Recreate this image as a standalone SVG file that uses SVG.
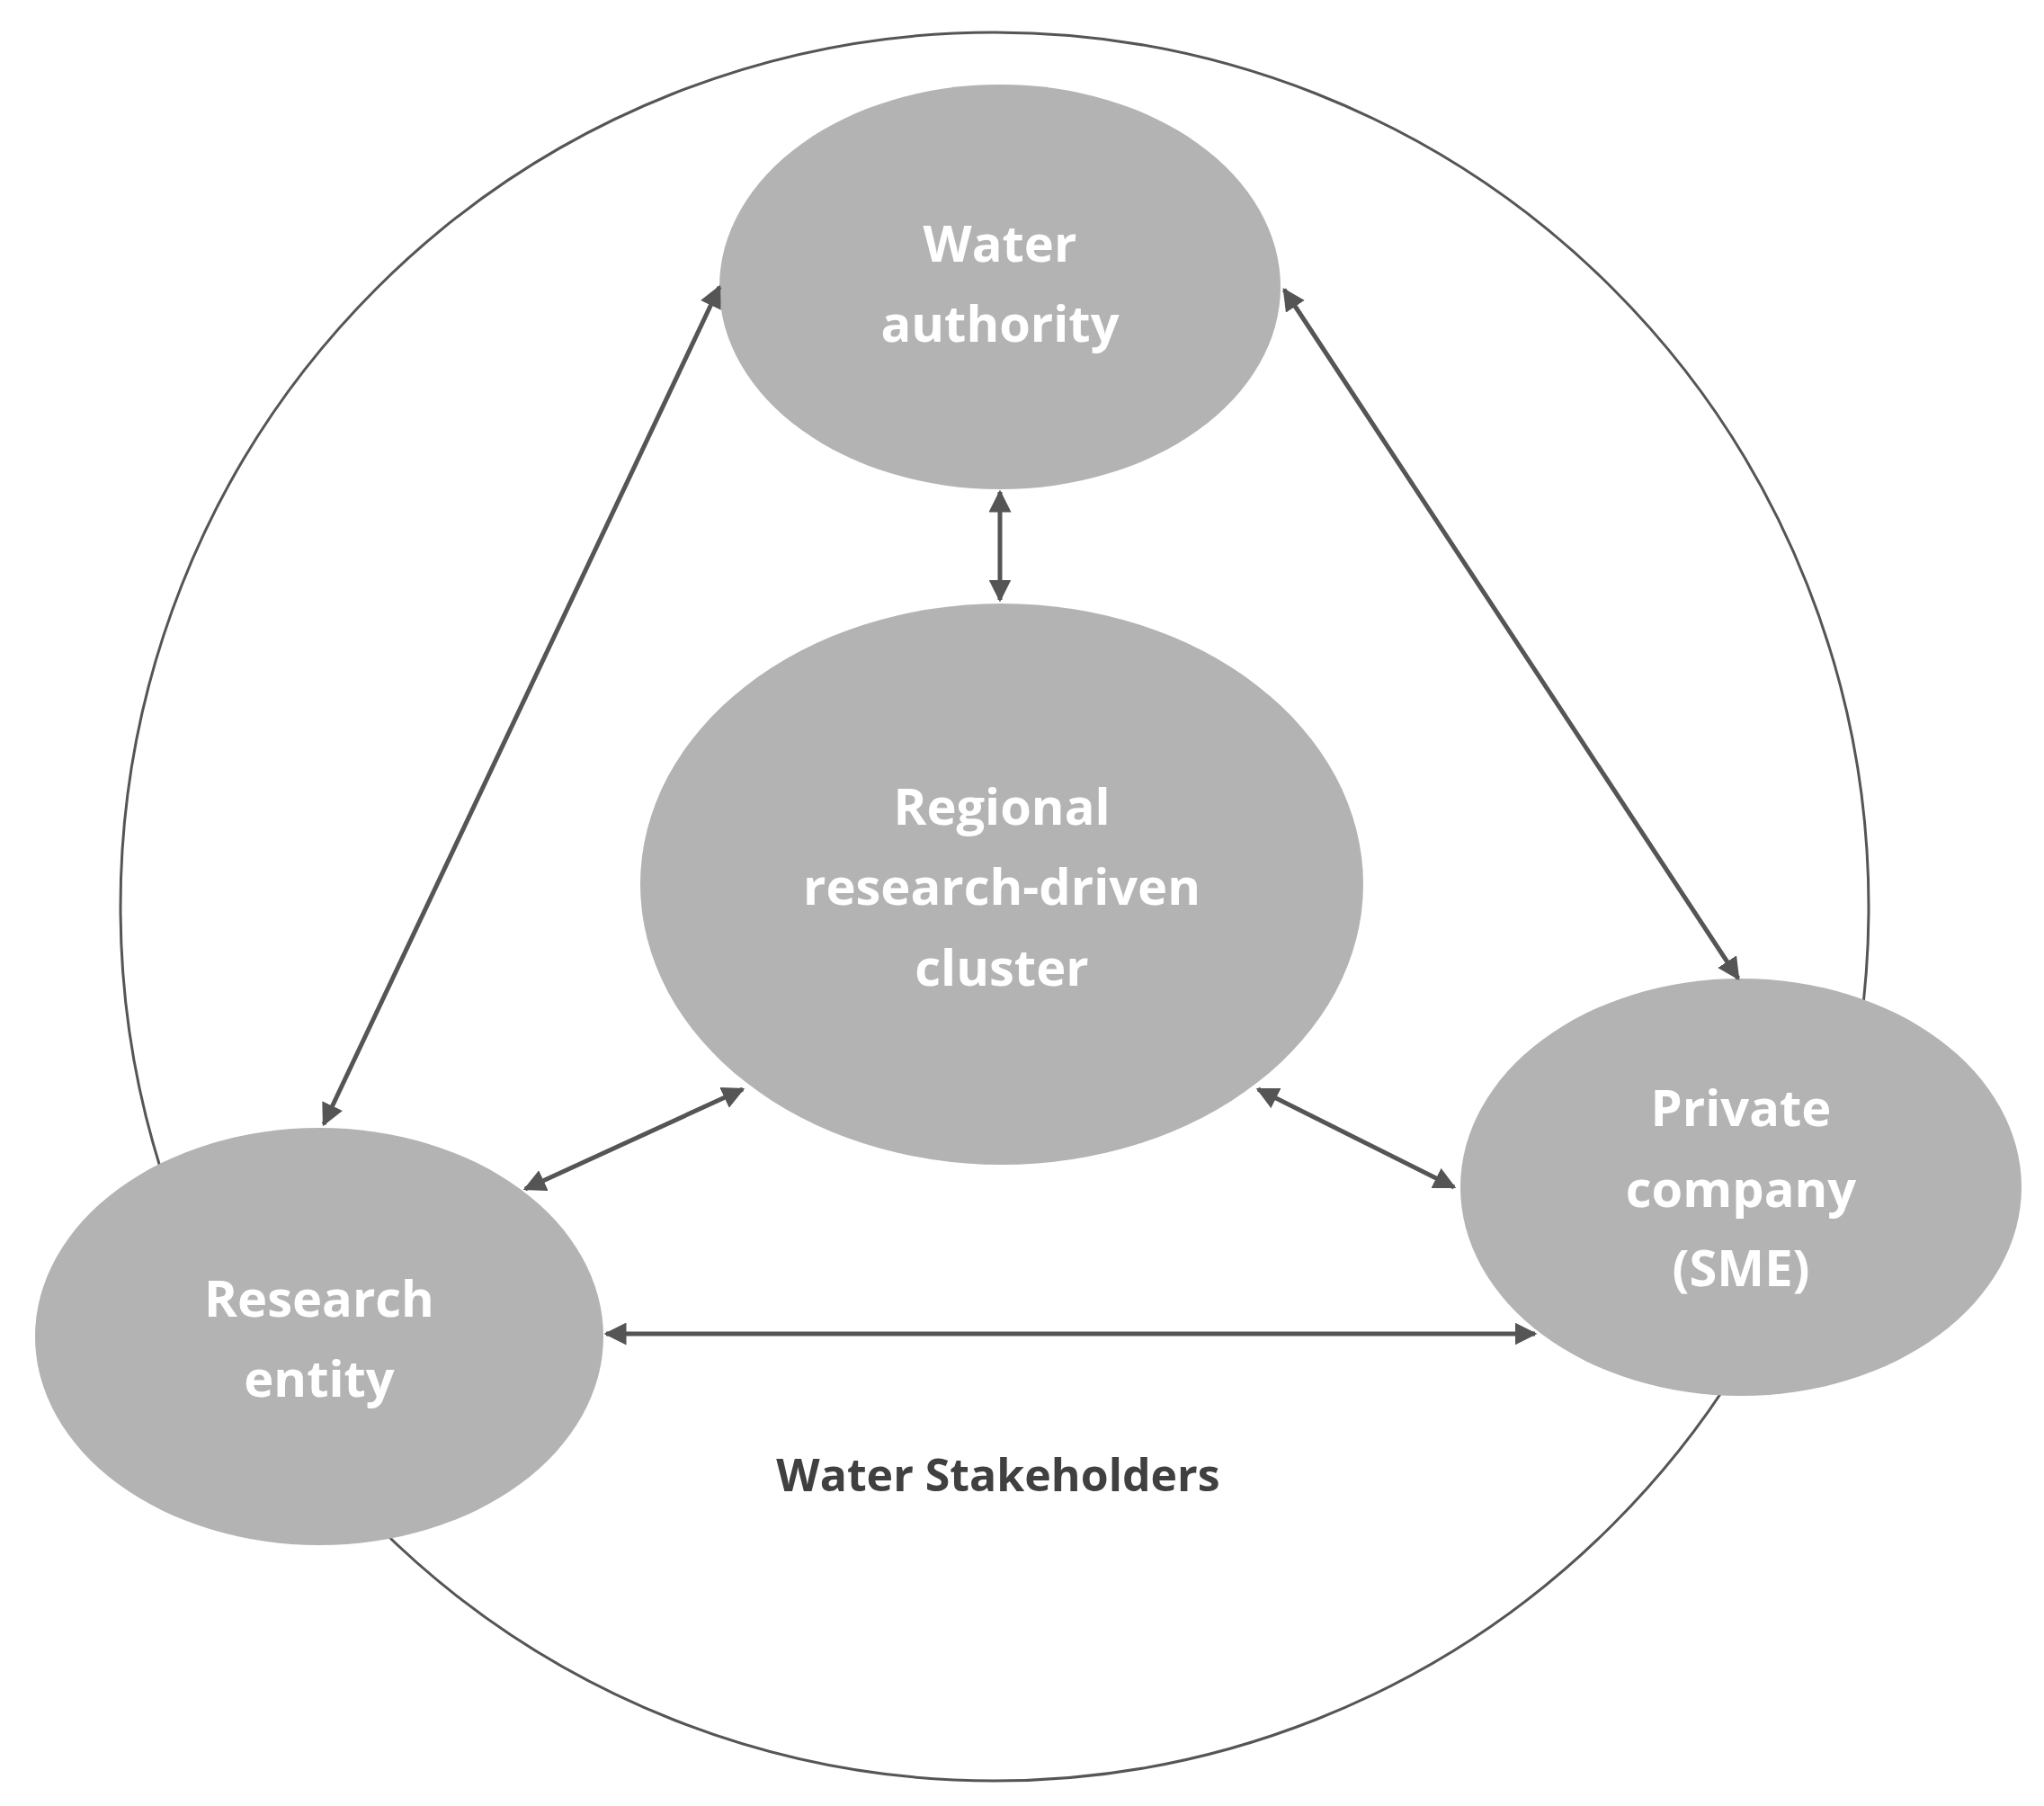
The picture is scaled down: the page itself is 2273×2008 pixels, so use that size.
<svg xmlns="http://www.w3.org/2000/svg" width="2273" height="2008" viewBox="0 0 2273 2008">
<style>
.n{fill:#b3b3b3}
.t{font-family:"Open Sans","Liberation Sans",sans-serif;font-weight:bold;font-size:56px;fill:#fff;text-anchor:middle}
.c{stroke:#555;stroke-width:5;fill:none;marker-start:url(#a);marker-end:url(#a)}
</style>
<defs><marker id="a" viewBox="0 0 10 10" refX="9" refY="5" markerWidth="5" markerHeight="5" orient="auto-start-reverse"><path d="M0,0L10,5L0,10z" fill="#555"/></marker></defs>
<rect width="2273" height="2008" fill="#fff"/>
<circle cx="1106" cy="1008" r="972" fill="none" stroke="#555" stroke-width="3"/>
<g id="wa"><ellipse class="n" cx="1112" cy="319" rx="312" ry="225"/><text class="t" x="1112" y="291">Water</text><text class="t" x="1112" y="380">authority</text></g>
<g id="center"><ellipse class="n" cx="1114" cy="983" rx="402" ry="312"/><text class="t" x="1114" y="917">Regional</text><text class="t" x="1114" y="1006">research-driven</text><text class="t" x="1114" y="1096">cluster</text></g>
<g id="pc"><ellipse class="n" cx="1936" cy="1320" rx="312" ry="232"/><text class="t" x="1936" y="1252">Private</text><text class="t" x="1936" y="1342">company</text><text class="t" x="1936" y="1430">(SME)</text></g>
<g id="re"><ellipse class="n" cx="355" cy="1486" rx="316" ry="232"/><text class="t" x="355" y="1464">Research</text><text class="t" x="355" y="1553">entity</text></g>
<text x="1110" y="1658" font-family="Open Sans, Liberation Sans, sans-serif" font-weight="bold" font-size="50" fill="#404040" text-anchor="middle">Water Stakeholders</text>
<g id="connectors">
<line class="c" x1="800" y1="319" x2="360" y2="1250"/>
<line class="c" x1="1428" y1="322" x2="1933" y2="1088"/>
<line class="c" x1="1112" y1="547" x2="1112" y2="667"/>
<line class="c" x1="826" y1="1211" x2="584" y2="1322"/>
<line class="c" x1="1399" y1="1211" x2="1617" y2="1320"/>
<line class="c" x1="674" y1="1483" x2="1707" y2="1483"/>
</g>
</svg>
